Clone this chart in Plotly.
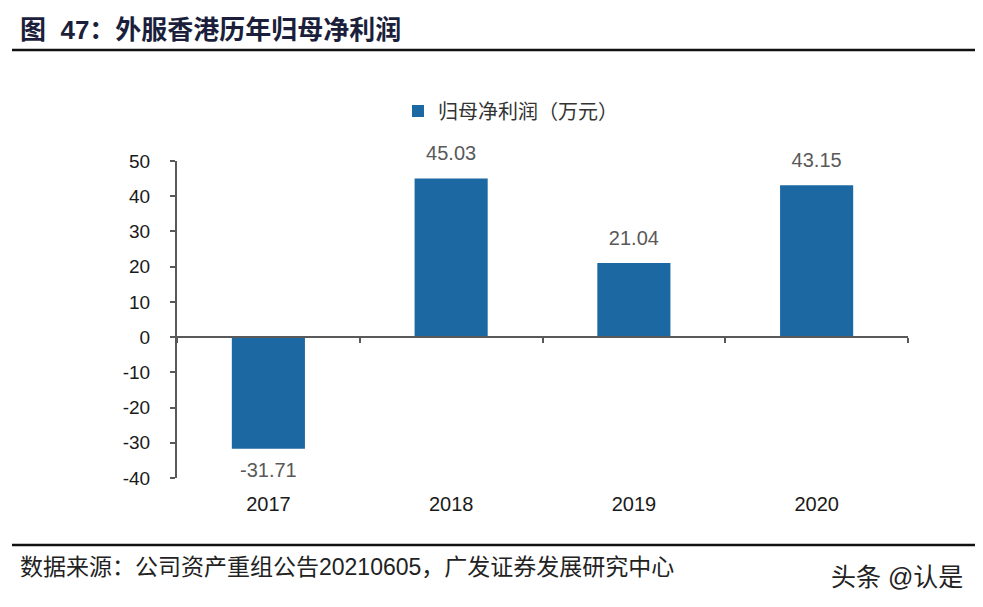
import plotly.graph_objects as go

# data
years = ["2017", "2018", "2019", "2020"]
netProfit = [-31.71, 45.03, 21.04, 43.15]
yTicks = [-40, -30, -20, -10, 0, 10, 20, 30, 40, 50]

seriesName = "归母净利润（万元）"
titleText = "<b>图  47：外服香港历年归母净利润</b>"
sourceText = "数据来源：公司资产重组公告20210605，广发证券发展研究中心"
markText = "头条 @认是"

barColor = "#1c68a3"
axisColor = "#595959"
font = "Arial, Liberation Sans, Noto Sans CJK SC, sans-serif"

fig = go.Figure()

fig.add_trace(go.Bar(
    x=years, y=netProfit, name=seriesName,
    marker=dict(color=barColor, line=dict(width=0)),
    width=0.4,
))

# value labels, pushed off the bar ends by an invisible marker
fig.add_trace(go.Scatter(
    x=years, y=netProfit, mode="markers+text",
    text=[f"{v:.2f}" for v in netProfit],
    textposition=["bottom center" if v < 0 else "top center" for v in netProfit],
    textfont=dict(family=font, size=20, color="#595959"),
    marker=dict(size=20, opacity=0),
    showlegend=False, hoverinfo="skip", cliponaxis=False,
))

# invisible trace carrying the zero-level axis with boundary ticks
fig.add_trace(go.Scatter(
    x=years, y=[0] * len(years), xaxis="x2", mode="markers",
    marker=dict(opacity=0), showlegend=False, hoverinfo="skip",
))

# title, rules, source, watermark
fig.add_annotation(x=-0.2175, y=1.413, xref="paper", yref="paper", xanchor="left",
                   yanchor="middle", text=titleText, showarrow=False,
                   font=dict(family="Arial, Noto Sans CJK SC", size=26, color="#1b1f3b"))
fig.add_annotation(x=-0.2175, y=-0.281, xref="paper", yref="paper", xanchor="left",
                   yanchor="middle", text=sourceText, showarrow=False,
                   font=dict(family="Arial, Noto Sans CJK SC", size=23, color="#222222"))
fig.add_annotation(x=1.078, y=-0.312, xref="paper", yref="paper", xanchor="right",
                   yanchor="middle", text=markText, showarrow=False,
                   font=dict(family="Arial, Noto Sans CJK SC", size=25, color="#222222"))

fig.add_shape(type="line", xref="paper", yref="paper", x0=-0.2257, x1=1.0958,
              y0=1.350, y1=1.350, line=dict(color="#111111", width=2.5))
fig.add_shape(type="line", xref="paper", yref="paper", x0=-0.2257, x1=1.0958,
              y0=-0.2114, y1=-0.2114, line=dict(color="#111111", width=2.5))

# page body adds an 8px offset, so the figure is 8px smaller and shifted back
fig.update_layout(
    width=975, height=599,
    margin=dict(l=169, r=75, t=153, b=129),
    paper_bgcolor="white", plot_bgcolor="white",
    font=dict(family=font, size=19, color="#262626"),
    legend=dict(orientation="h", x=0.3023, y=1.158, xanchor="left", yanchor="middle",
                font=dict(family="Arial, Noto Sans CJK SC", size=20, color="#333333"),
                itemwidth=30, bgcolor="rgba(0,0,0,0)"),
    xaxis=dict(type="category", categoryorder="array", categoryarray=years,
               range=[-0.5, 3.5], showline=False, showgrid=False, zeroline=False,
               ticks="", ticklabelstandoff=12,
               tickfont=dict(family=font, size=20, color="#1a1a1a")),
    xaxis2=dict(type="category", categoryorder="array", categoryarray=years,
                range=[-0.5, 3.5], overlaying="x", anchor="free", position=40 / 90,
                showline=True, linecolor=axisColor, linewidth=2,
                ticks="outside", tickson="boundaries", ticklen=5, tickwidth=2,
                tickcolor=axisColor, showticklabels=False, showgrid=False, zeroline=False),
    yaxis=dict(range=[-40, 50], tickvals=yTicks, ticktext=[str(t) for t in yTicks],
               showgrid=False, zeroline=False,
               showline=True, linecolor=axisColor, linewidth=2,
               ticks="outside", ticklen=5, tickwidth=2, tickcolor=axisColor,
               ticklabelstandoff=16,
               tickfont=dict(family=font, size=19, color="#1a1a1a")),
)

fig.write_html("out.html")
